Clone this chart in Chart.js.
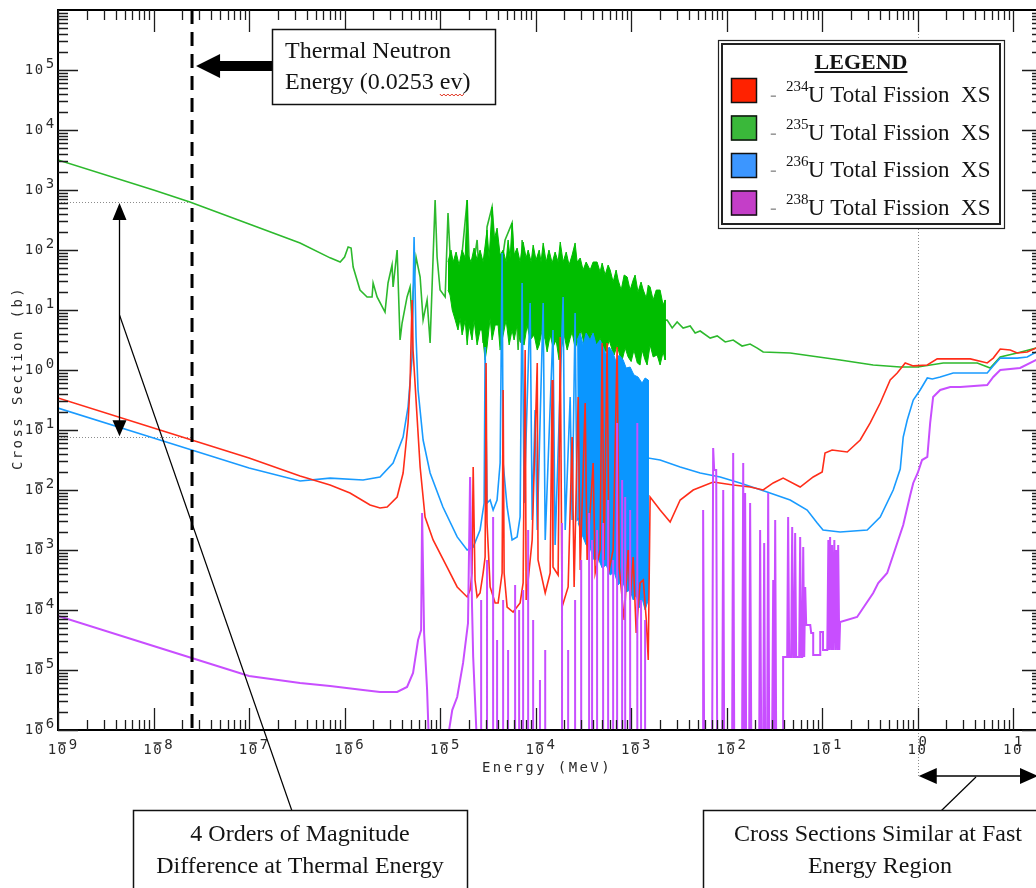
<!DOCTYPE html>
<html><head><meta charset="utf-8">
<script src="https://cdn.jsdelivr.net/npm/chart.js@4.4.0/dist/chart.umd.min.js"></script>
<style>html,body{margin:0;padding:0;overflow:hidden;background:#fff;width:1036px;height:888px}canvas{display:block}</style>
</head><body>
<canvas id="c" width="1044" height="888" style="width:1044px;height:888px"></canvas>
<script>
// ---- axis ranges (MeV, barns) ----
const xMin = 1e-9, xMax = 20, yMin = 1e-6, yMax = 1e6;
const xDecades = [-9,-8,-7,-6,-5,-4,-3,-2,-1,0,1];
const yDecades = [-6,-5,-4,-3,-2,-1,0,1,2,3,4,5];
// ---- annotation values ----
const thermalE = 2.53e-8;      // 0.0253 eV in MeV
const u235Thermal = 6.3e2;     // U235 fission XS at thermal
const u234Thermal = 7.6e-2;    // U234 fission XS at thermal
const arrowE = 4.3e-9;
const fastE = 1;
const u238Floor = 5e-7;        // below the plotted range between resonances

// ---- U-235 total fission XS ----
const u235Line = [[1e-9,3.16e3],[1e-8,1.0e3],[2.4e-8,6.3e2],[1e-7,2.71e2],[3.42e-7,1.31e2],[7.05e-7,7.4e1],[9.0e-7,6.31e1],[1.0e-6,7.64e1],[1.09e-6,1.12e2],[1.17e-6,1.08e2],[1.23e-6,5.2e1],[1.45e-6,2.15e1],[1.72e-6,1.65e1],[1.94e-6,1.65e1],[1.99e-6,2.82e1],[2.19e-6,1.65e1],[2.65e-6,9.26],[2.85e-6,2.82e1],[3.14e-6,5.62e1],[3.22e-6,2.42e1],[3.55e-6,1.0e2],[3.81e-6,3.16],[4.0e-6,6.07],[4.51e-6,1.65e1],[4.85e-6,2.42e1],[5.09e-6,6.07],[5.21e-6,1.92e1],[5.6e-6,7.64e1],[6.18e-6,3.55e1],[6.64e-6,6.81],[7.31e-6,1.47e1],[7.86e-6,2.82],[8.45e-6,7.64e1],[8.87e-6,6.81e2],[9.3e-6,7.64e1],[1.0e-5,2.15e1],[1.13e-5,1.65e1],[1.21e-5,4.13e2],[1.30e-5,4.13e1],[1.54e-5,7.64],[1.70e-5,8.91e1],[1.92e-5,6.81e2],[2.06e-5,2.15e1],[2.44e-5,1.47e2],[2.82e-5,2.82],[3.10e-5,2.42e2],[3.50e-5,5.21e2],[4.05e-5,2.15e1],[4.79e-5,1.47e2],[5.67e-5,2.82e2],[6.56e-5,2.15],[7.22e-5,1.47e2],[8.15e-5,6.07],[2.38e-3,6.81],[2.69e-3,5.01],[3.03e-3,6.31],[3.50e-3,5.01],[4.15e-3,5.41],[4.68e-3,4.13],[5.28e-3,4.47],[6.72e-3,3.41],[7.96e-3,3.69],[9.65e-3,2.93],[1.17e-2,3.16],[1.45e-2,2.51],[1.76e-2,2.71],[2.09e-2,2.32],[2.41e-2,2.0],[4.62e-2,1.92],[1.54e-1,1.47],[3.42e-1,1.21],[6.56e-1,1.12],[1.0,1.12],[1.85,1.31],[4.2,1.31],[5.74,1.08],[7.3,1.65],[11.0,1.92],[17.4,2.32],[20,2.42]];
// dense resonance band: upper edge (left to right) then lower edge (right to left)
const u235BandTop = [[1.21e-5,6.31e1],[1.30e-5,1.0e2],[1.37e-5,6.31e1],[1.47e-5,9.26e1],[1.58e-5,5.62e1],[1.70e-5,1.0e2],[1.83e-5,7.36e1],[1.92e-5,6.81e2],[1.96e-5,8.25e1],[2.11e-5,6.31e1],[2.27e-5,1.08e2],[2.44e-5,6.81e1],[2.62e-5,1.0e2],[2.82e-5,6.31e1],[3.10e-5,2.15e2],[3.26e-5,7.36e1],[3.50e-5,5.21e2],[3.68e-5,1.47e2],[3.95e-5,2.32e2],[4.25e-5,8.25e1],[4.57e-5,1.0e2],[4.91e-5,6.31e1],[5.15e-5,1.47e2],[5.41e-5,7.36e1],[5.67e-5,2.82e2],[5.95e-5,8.25e1],[6.40e-5,1.08e2],[6.88e-5,6.31e1],[7.40e-5,1.36e2],[7.96e-5,7.36e1],[8.35e-5,1.0e2],[8.98e-5,6.31e1],[9.42e-5,1.21e2],[1.01e-4,6.81e1],[1.09e-4,1.0e2],[1.14e-4,6.31e1],[1.20e-4,1.31e2],[1.29e-4,6.31e1],[1.38e-4,1.0e2],[1.49e-4,6.07e1],[1.60e-4,9.26e1],[1.72e-4,6.31e1],[1.81e-4,1.36e2],[1.94e-4,6.31e1],[2.09e-4,9.26e1],[2.24e-4,5.62e1],[2.41e-4,8.25e1],[2.59e-4,1.31e2],[2.72e-4,6.31e1],[2.93e-4,7.36e1],[3.14e-4,4.64e1],[3.38e-4,6.31e1],[3.72e-4,4.64e1],[4.0e-4,6.31e1],[4.4e-4,6.31e1],[4.73e-4,4.30e1],[4.97e-4,6.07e1],[5.34e-4,3.83e1],[5.74e-4,5.62e1],[6.03e-4,4.64e1],[6.48e-4,2.93e1],[6.96e-4,4.64e1],[7.31e-4,3.16e1],[7.86e-4,2.15e1],[8.45e-4,3.83e1],[9.09e-4,3.55e1],[9.76e-4,2.15e1],[1.05e-3,3.16e1],[1.10e-3,3.83e1],[1.18e-3,2.0e1],[1.27e-3,2.93e1],[1.34e-3,2.15e1],[1.44e-3,1.58e1],[1.51e-3,2.61e1],[1.58e-3,2.42e1],[1.70e-3,1.47e1],[1.83e-3,2.15e1],[2.01e-3,2.15e1],[2.16e-3,1.21e1],[2.27e-3,1.47e1]];
const u235BandBottom = [[2.27e-3,1.47],[2.16e-3,2.0],[2.01e-3,1.21],[1.87e-3,1.78],[1.70e-3,1.65],[1.58e-3,2.61],[1.47e-3,1.21],[1.40e-3,1.47],[1.30e-3,2.15],[1.24e-3,1.21],[1.16e-3,1.31],[1.07e-3,2.15],[1.0e-3,1.38],[9.3e-4,1.65],[8.66e-4,2.32],[8.05e-4,1.47],[7.67e-4,1.65],[7.13e-4,2.61],[6.64e-4,1.78],[6.33e-4,2.15],[5.88e-4,3.16],[5.48e-4,2.0],[5.09e-4,2.42],[4.73e-4,3.41],[4.4e-4,2.15],[4.2e-4,2.61],[3.9e-4,4.30],[3.63e-4,2.61],[3.46e-4,3.55],[3.22e-4,2.61],[3.0e-4,4.64],[2.79e-4,3.16],[2.59e-4,2.32],[2.41e-4,4.30],[2.3e-4,3.41],[2.14e-4,2.15],[1.99e-4,3.83],[1.89e-4,2.61],[1.76e-4,1.47],[1.64e-4,3.16],[1.52e-4,2.42],[1.42e-4,3.83],[1.32e-4,2.0],[1.26e-4,3.16],[1.17e-4,4.64],[1.09e-4,2.61],[1.04e-4,2.15],[9.65e-5,3.83],[8.76e-5,3.16],[8.15e-5,5.62],[7.58e-5,2.61],[6.88e-5,2.93],[6.40e-5,5.62],[5.95e-5,3.16],[5.67e-5,4.64],[5.28e-5,2.61],[4.91e-5,6.81],[4.57e-5,3.83],[4.25e-5,2.15],[4.05e-5,5.62],[3.77e-5,5.62],[3.50e-5,3.16],[3.34e-5,7.36],[3.10e-5,2.42],[2.96e-5,1.47],[2.75e-5,4.64],[2.62e-5,4.64],[2.44e-5,2.61],[2.27e-5,6.81],[2.16e-5,3.16],[2.01e-5,5.62],[1.92e-5,2.61],[1.83e-5,6.81],[1.70e-5,3.83],[1.62e-5,7.36],[1.54e-5,4.64],[1.44e-5,6.81],[1.34e-5,1.0e1],[1.27e-5,1.78e1],[1.21e-5,2.15e1]];

// ---- U-234 total fission XS ----
const u234Line = [[1e-9,3.41e-1],[1e-8,1.08e-1],[1e-7,3.41e-2],[3.42e-7,1.71e-2],[7.05e-7,1.21e-2],[1.14e-6,8.91e-3],[1.85e-6,5.62e-3],[2.35e-6,5.01e-3],[2.79e-6,5.21e-3],[3.55e-6,7.64e-3],[4.1e-6,1.92e-2],[4.62e-6,1.31e-1],[4.85e-6,6.07e-1],[5.09e-6,1.47e1],[5.21e-6,2.15],[5.74e-6,1.65e-1],[6.18e-6,2.42e-2],[6.96e-6,3.55e-3],[8.45e-6,1.47e-3],[1.18e-5,5.21e-4],[1.51e-5,2.42e-4],[1.92e-5,1.65e-4],[2.06e-5,2.15e-4],[2.16e-5,4.13e-4],[2.22e-5,2.42e-2],[2.32e-5,3.16e-4],[2.44e-5,1.65e-4],[2.62e-5,1.92e-4],[2.82e-5,4.13e-4],[2.96e-5,7.64e-4],[3.03e-5,1.31],[3.10e-5,2.82e-3],[3.34e-5,2.42e-4],[3.77e-5,1.31e-4],[4.05e-5,1.31e-4],[4.46e-5,4.13e-4],[4.57e-5,4.64e-1],[4.68e-5,4.13e-4],[5.03e-5,1.12e-4],[5.81e-5,9.26e-5],[6.88e-5,1.31e-4],[7.40e-5,2.82e-4],[7.77e-5,2.15],[7.96e-5,1.47e-4],[9.2e-5,1.47e-3],[1.04e-4,1.31],[1.06e-4,6.81e-4],[1.26e-4,1.92e-4],[1.42e-4,4.13e-4],[1.49e-4,6.81e-1],[1.52e-4,5.21e-4],[1.72e-4,3.83e-4],[1.81e-4,3.55],[1.89e-4,1.12e-4],[2.19e-4,2.42e-4],[2.41e-4,7.64e-2],[2.53e-4,2.42e-4],[2.79e-4,3.55e-1],[2.93e-4,4.64e-4],[3.30e-4,2.82e-1],[3.46e-4,6.81e-4],[4.0e-4,2.82e-2],[4.2e-4,4.13e-4],[4.73e-4,1.0e-3],[4.97e-4,2.82],[5.21e-4,6.81e-4],[5.6e-4,2.82],[5.88e-4,4.64e-4],[6.48e-4,1.0e-3],[7.13e-4,2.42],[7.5e-4,5.21e-4],[8.45e-4,6.81e-5],[9.3e-4,1.0e-3],[9.76e-4,1.47e-4],[1.05e-3,7.64e-4],[1.13e-3,4.13e-5],[1.24e-3,2.82e-4],[1.34e-3,3.16e-4],[1.44e-3,6.81e-5],[1.51e-3,1.47e-5],[1.58e-3,7.64e-3],[2.01e-3,4.64e-3],[2.56e-3,2.93e-3],[3.26e-3,6.81e-3],[4.46e-3,1.0e-2],[7.22e-3,1.36e-2],[1.17e-2,1.21e-2],[1.76e-2,1.12e-2],[2.41e-2,1.0e-2],[3.07e-2,1.31e-2],[3.9e-2,1.58e-2],[5.88e-2,1.12e-2],[8.05e-2,1.65e-2],[1e-1,2.0e-2],[1.07e-1,4.13e-2],[1.27e-1,4.64e-2],[1.83e-1,4.30e-2],[2.50e-1,6.81e-2],[3.18e-1,1.31e-1],[4.05e-1,2.82e-1],[5.15e-1,6.81e-1],[6.10e-1,8.91e-1],[7.40e-1,1.31],[8.98e-1,1.17],[1.26,1.21],[1.6,1.53],[3.55,1.53],[5.34,1.31],[6.18,1.58],[7.31,2.24],[9.3,2.15],[11.0,1.92],[14.0,2.0],[17.4,2.32],[20,2.42]];

// ---- U-236 total fission XS ----
const u236Line = [[1e-9,2.32e-1],[1e-8,7.34e-2],[1e-7,2.32e-2],[3.42e-7,1.41e-2],[7.05e-7,1.58e-2],[1.56e-6,1.47e-2],[2.35e-6,1.65e-2],[3.22e-6,2.82e-2],[4.1e-6,7.64e-2],[4.62e-6,2.42e-1],[5.09e-6,1.65],[5.34e-6,1.65e2],[5.6e-6,3.55],[5.88e-6,4.64e-1],[6.64e-6,6.81e-2],[7.86e-6,1.92e-2],[1.07e-5,5.21e-3],[1.51e-5,1.65e-3],[1.92e-5,1.0e-3],[2.22e-5,1.12e-3],[2.62e-5,2.15e-3],[2.89e-5,6.07e-3],[2.96e-5,2.42],[3.10e-5,6.07e-3],[3.34e-5,6.81e-3],[3.59e-5,4.64e-3],[3.95e-5,6.81e-3],[4.25e-5,2.82e-2],[4.46e-5,8.91e1],[4.57e-5,2.82e-2],[5.03e-5,5.21e-3],[5.67e-5,1.47e-3],[6.40e-5,1.65e-3],[6.88e-5,3.55e-3],[7.22e-5,2.82e1],[7.58e-5,6.07e-3],[8.76e-5,1.31e1],[9.2e-5,3.16e-3],[9.88e-5,2.15e-1],[1.04e-4,2.15e-3],[1.20e-4,1.31e1],[1.26e-4,1.47e-3],[1.52e-4,4.64],[1.6e-4,1.21e-3],[1.94e-4,1.65e1],[2.04e-4,2.15e-3],[2.3e-4,3.55e-1],[2.41e-4,3.16e-3],[2.59e-4,8.91],[2.72e-4,3.16e-3],[1.51e-3,3.41e-2],[2.01e-3,3.16e-2],[3.26e-3,2.42e-2],[5.28e-3,1.92e-2],[8.55e-3,1.65e-2],[1.38e-2,1.31e-2],[2.65e-2,9.26e-3],[4.62e-2,6.81e-3],[6.96e-2,4.64e-3],[8.87e-2,2.82e-3],[1.02e-1,2.15e-3],[1.54e-1,2.0e-3],[2.96e-1,2.15e-3],[4.05e-1,3.55e-3],[5.54e-1,1.0e-2],[6.56e-1,2.24e-2],[7.05e-1,7.64e-2],[7.77e-1,1.47e-1],[8.98e-1,3.16e-1],[1.06,4.64e-1],[1.26,7.36e-1],[1.42,7.08e-1],[1.72,7.64e-1],[2.35,8.91e-1],[5.34,8.91e-1],[6.03,1.12],[7.31,1.58],[11.0,1.58],[14.0,1.65],[17.4,2.0],[20,2.07]];
const u236BandTop = [[2.72e-4,3.16],[2.93e-4,4.13],[3.14e-4,2.61],[3.38e-4,4.13],[3.72e-4,3.16],[4.0e-4,4.13],[4.3e-4,2.61],[4.73e-4,3.16],[5.09e-4,2.42],[5.48e-4,1.78],[5.88e-4,2.42],[6.48e-4,1.92],[6.96e-4,1.36],[7.49e-4,1.78],[8.25e-4,1.47],[8.87e-4,1.08],[9.76e-4,1.12],[1.07e-3,8.25e-1],[1.18e-3,7.64e-1],[1.30e-3,6.07e-1],[1.40e-3,7.36e-1],[1.51e-3,6.81e-1]];
const u236BandBottom = [[1.51e-3,1.47e-4],[1.40e-3,1.0e-4],[1.30e-3,1.58e-4],[1.21e-3,1.08e-4],[1.13e-3,1.78e-4],[1.05e-3,1.47e-4],[9.76e-4,2.15e-4],[8.87e-4,2.0e-4],[8.05e-4,3.16e-4],[7.31e-4,2.61e-4],[6.64e-4,4.30e-4],[6.03e-4,3.83e-4],[5.48e-4,5.62e-4],[4.97e-4,5.01e-4],[4.51e-4,7.36e-4],[4.1e-4,6.81e-4],[3.72e-4,1.08e-3],[3.38e-4,1.21e-3],[3.07e-4,1.78e-3],[2.79e-4,2.82e-3]];

// ---- U-238 total fission XS ----
const u238Low = [[1e-9,7.94e-5],[1e-8,2.51e-5],[1e-7,7.94e-6],[3.42e-7,6.07e-6],[7.05e-7,5.41e-6],[1.56e-6,4.64e-6],[2.35e-6,4.30e-6],[3.55e-6,4.30e-6],[4.51e-6,5.21e-6],[5.21e-6,8.91e-6],[5.88e-6,3.16e-5],[6.33e-6,4.64e-5],[6.48e-6,4.13e-3],[6.8e-6,4.13e-5],[7.31e-6,4.64e-6],[7.67e-6,5e-7],[1.16e-5,5e-7],[1.34e-5,2.15e-6],[1.51e-5,3.55e-6],[1.74e-5,1.31e-5],[1.96e-5,6.07e-5],[2.06e-5,1.65e-2],[2.16e-5,1.12e-4],[2.22e-5,1.65e-5],[2.44e-5,5e-7]];
const u238SpikeE = [2.69e-5,3.10e-5,3.59e-5,3.95e-5,4.57e-5,5.15e-5,6.10e-5,6.72e-5,7.40e-5,8.35e-5,9.42e-5,1.11e-4,1.26e-4,1.89e-4,2.19e-4,2.59e-4,3.0e-4,3.63e-4,3.9e-4,4.4e-4,5.09e-4,5.74e-4,6.48e-4,7.13e-4,8.05e-4,8.66e-4,9.76e-4,1.16e-3,1.27e-3,1.40e-3];
const u238SpikePeak = [1.47e-4,6.81e-4,3.55e-3,3.16e-5,1.47e-4,2.15e-5,2.61e-4,1.0e-4,2.15e-4,2.15e-3,6.81e-5,6.81e-6,2.15e-5,2.82e-3,2.15e-5,1.47e-4,6.81e-4,4.13e-3,1.47e-3,2.15e-3,2.82e-3,6.81e-3,6.81e-4,1.31e-1,1.47e-2,7.64e-3,4.64e-3,1.31e-1,1.47e-4,6.81e-5];
const u238High = [[1.58e-3,5e-7],[5.67e-3,5e-7],[5.67e-3,4.64e-3],[5.81e-3,5e-7],[7.05e-3,5e-7],[7.22e-3,5.01e-2],[7.40e-3,2.15e-2],[7.77e-3,2.15e-2],[7.96e-3,5e-7],[8.98e-3,5e-7],[9.20e-3,1.0e-2],[9.42e-3,5e-7],[1.14e-2,5e-7],[1.17e-2,4.13e-2],[1.20e-2,5e-7],[1.45e-2,5e-7],[1.49e-2,2.82e-2],[1.52e-2,5e-7],[1.56e-2,8.91e-3],[1.60e-2,5e-7],[1.72e-2,5e-7],[1.76e-2,6.07e-3],[1.81e-2,5e-7],[2.19e-2,5e-7],[2.24e-2,2.15e-3],[2.30e-2,5e-7],[2.41e-2,5e-7],[2.47e-2,1.31e-3],[2.53e-2,5e-7],[2.65e-2,5e-7],[2.72e-2,8.91e-3],[2.79e-2,5e-7],[2.99e-2,5e-7],[3.07e-2,3.16e-4],[3.14e-2,5e-7],[3.22e-2,3.16e-3],[3.30e-2,5e-7],[3.9e-2,5e-7],[3.9e-2,1.65e-5],[4.30e-2,1.65e-5],[4.40e-2,3.55e-3],[4.51e-2,1.65e-5],[4.73e-2,1.65e-5],[4.85e-2,2.42e-3],[4.97e-2,1.65e-5],[5.09e-2,1.65e-5],[5.21e-2,1.92e-3],[5.34e-2,1.65e-5],[5.74e-2,1.65e-5],[5.88e-2,1.65e-3],[6.03e-2,1.65e-5],[6.18e-2,1.65e-5],[6.33e-2,1.12e-3],[6.48e-2,1.65e-5],[6.64e-2,2.42e-4],[6.80e-2,5.62e-5],[7.5e-2,5.62e-5],[7.67e-2,4.13e-5],[8.05e-2,4.13e-5],[8.05e-2,1.78e-5],[9.54e-2,1.78e-5],[9.54e-2,4.30e-5],[1.02e-1,4.30e-5],[1.02e-1,2.15e-5],[1.13e-1,2.15e-5],[1.16e-1,1.47e-3],[1.18e-1,2.15e-5],[1.21e-1,1.65e-3],[1.24e-1,2.15e-5],[1.27e-1,1.21e-3],[1.30e-1,2.15e-5],[1.34e-1,1.47e-3],[1.37e-1,2.15e-5],[1.40e-1,1.0e-3],[1.44e-1,2.15e-5],[1.47e-1,1.21e-3],[1.51e-1,2.15e-5],[1.54e-1,6.31e-5],[2.32e-1,7.64e-5],[3.42e-1,1.92e-4],[3.86e-1,2.82e-4],[4.79e-1,4.13e-4],[5.54e-1,8.25e-4],[7.05e-1,2.61e-3],[8.35e-1,8.25e-3],[8.98e-1,1.31e-2],[1.0,1.92e-2],[1.11,3.16e-2],[1.26,3.55e-2],[1.35,1.31e-1],[1.45,3.55e-1],[1.72,4.64e-1],[2.19,5.21e-1],[2.79,5.21e-1],[5.34,5.62e-1],[6.18,7.64e-1],[7.31,1.0],[11.8,1.08],[17.4,1.47],[20,1.58]];

// ---- legend ----
const legendIsotopes = ['234','235','236','238'];
const legendColors = ['rgb(255,34,0)','rgb(58,184,58)','rgb(60,150,255)','rgb(196,62,200)'];
const legendText = 'U Total Fission  XS';

// ---- build datasets ----
const u238Spikes = [];
u238SpikeE.forEach((e,i)=>{ u238Spikes.push([e,u238Floor],[e,u238SpikePeak[i]],[e,u238Floor]); });
const u238All = u238Low.concat(u238Spikes, u238High);
const u235Band = u235BandTop.concat(u235BandBottom);
const u236Band = u236BandTop.concat(u236BandBottom);
const pts = a => a.map(p => ({x:p[0], y:p[1]}));
const base = {showLine:true, pointRadius:0, pointHoverRadius:0, tension:0, fill:false};

const SERIF = '"Liberation Serif","Times New Roman",serif';
const MONO = '"DejaVu Sans Mono",monospace';

function line(ctx,x1,y1,x2,y2){ctx.beginPath();ctx.moveTo(x1,y1);ctx.lineTo(x2,y2);ctx.stroke();}
function tri(ctx,p){ctx.beginPath();ctx.moveTo(p[0],p[1]);ctx.lineTo(p[2],p[3]);ctx.lineTo(p[4],p[5]);ctx.closePath();ctx.fill();}

const deco = {
  id:'deco',
  beforeDatasetsDraw(chart){
    const {ctx, chartArea:a, scales:{x,y}} = chart;
    ctx.save();
    ctx.strokeStyle='#8c8c8c'; ctx.lineWidth=1; ctx.setLineDash([1,2]);
    const xf = Math.round(x.getPixelForValue(fastE))+0.5;
    line(ctx,xf,a.top,xf,a.bottom+46);
    const xt = x.getPixelForValue(thermalE);
    for (const v of [u235Thermal,u234Thermal]) {
      const yy = Math.round(y.getPixelForValue(v))+0.5;
      line(ctx,a.left,yy,xt,yy);
    }
    ctx.restore();
  },
  afterDatasetsDraw(chart){
    const {ctx, chartArea:a, scales:{x,y}} = chart;
    ctx.save();
    const xt = x.getPixelForValue(thermalE);
    ctx.strokeStyle='#000'; ctx.lineWidth=3; ctx.setLineDash([14,8]);
    line(ctx,xt,a.top,xt,a.bottom);
    ctx.setLineDash([]);
    ctx.lineWidth=2; ctx.strokeStyle='#000';
    ctx.strokeRect(a.left,a.top,a.right-a.left,a.bottom-a.top);
    ctx.lineWidth=1.3; ctx.strokeStyle='#1c1c1c';
    ctx.beginPath();
    for (let e=-9;e<=1;e++) for (let m=1;m<=9;m++) {
      const v=m*Math.pow(10,e); if (v<x.min*0.999||v>x.max) continue;
      const p=Math.round(x.getPixelForValue(v))+0.5, L=(m===1?22:10);
      ctx.moveTo(p,a.bottom); ctx.lineTo(p,a.bottom-L);
      ctx.moveTo(p,a.top); ctx.lineTo(p,a.top+L);
    }
    for (let e=-6;e<=5;e++) for (let m=1;m<=9;m++) {
      const v=m*Math.pow(10,e); if (v<y.min*0.999||v>y.max*1.001) continue;
      const p=Math.round(y.getPixelForValue(v))+0.5, L=(m===1?20:10);
      ctx.moveTo(a.left,p); ctx.lineTo(a.left+L,p);
      ctx.moveTo(a.right,p); ctx.lineTo(a.right-L,p);
    }
    ctx.stroke();
    ctx.fillStyle='#2a2a2a'; ctx.font='14px '+MONO; ctx.textAlign='center'; ctx.textBaseline='middle';
    ctx.lineWidth=1.4; ctx.strokeStyle='#2a2a2a';
    for (const e of xDecades) {
      const p=x.getPixelForValue(Math.pow(10,e)), cy=a.bottom+20;
      ctx.fillText('1',p-6,cy); ctx.fillText('0',p+4,cy);
      if (e<0) { line(ctx,p,cy-7,p+8,cy-7); ctx.fillText(String(-e),p+15,cy-5); }
      else { ctx.fillText(String(e),p+5,cy-8); }
    }
    for (const e of yDecades) {
      const p=y.getPixelForValue(Math.pow(10,e));
      ctx.fillText('1',29,p); ctx.fillText('0',39,p);
      if (e<0) { line(ctx,35,p-7,43,p-7); ctx.fillText(String(-e),50,p-6); }
      else ctx.fillText(String(e),50,p-6);
    }
    ctx.font='14px '+MONO; ctx.fillStyle='#2a2a2a';
    try{ctx.letterSpacing='2.4px';}catch(err){}
    ctx.fillText('Energy (MeV)',547,768);
    ctx.save(); ctx.translate(18,378); ctx.rotate(-Math.PI/2); ctx.fillText('Cross Section (b)',0,0); ctx.restore();
    try{ctx.letterSpacing='0px';}catch(err){}

    const xa=Math.round(x.getPixelForValue(arrowE))+0.5;
    const y1=y.getPixelForValue(u235Thermal), y2=y.getPixelForValue(u234Thermal);
    ctx.strokeStyle='#000'; ctx.fillStyle='#000'; ctx.lineWidth=1.3;
    line(ctx,xa,y1+10,xa,y2-10);
    tri(ctx,[xa,y1+1,xa-7,y1+18,xa+7,y1+18]);
    tri(ctx,[xa,y2-1,xa-7,y2-17,xa+7,y2-17]);
    ctx.lineWidth=1.2; line(ctx,xa,315,292,811);

    tri(ctx,[xt+4,66,xt+28,54,xt+28,78]);
    ctx.fillRect(xt+27,61,272-(xt+27),10);
    ctx.fillStyle='#fff'; ctx.fillRect(272,29,224,76);
    ctx.strokeStyle='#111'; ctx.lineWidth=1.5; ctx.strokeRect(272.5,29.5,223,75);
    ctx.fillStyle='#141414'; ctx.font='24px '+SERIF; ctx.textAlign='left'; ctx.textBaseline='alphabetic';
    ctx.fillText('Thermal Neutron',285,58);
    ctx.fillText('Energy (0.0253 ev)',285,89);
    const pre=ctx.measureText('Energy (0.0253 ').width, evw=ctx.measureText('ev').width;
    ctx.strokeStyle='#e0301e'; ctx.lineWidth=1; ctx.beginPath();
    for (let i=0;i<=Math.ceil(evw/2);i++){ const xx=285+pre+i*2, yy=94+(i%2?2:0); if(i===0)ctx.moveTo(xx,yy); else ctx.lineTo(xx,yy);} ctx.stroke();

    const xf=x.getPixelForValue(fastE);
    ctx.strokeStyle='#000'; ctx.fillStyle='#000'; ctx.lineWidth=1.5;
    line(ctx,xf+14,776,1024,776);
    tri(ctx,[xf+1,776,xf+19,768,xf+19,784]);
    tri(ctx,[1038,776,1020,768,1020,784]);
    ctx.lineWidth=1.2; line(ctx,976,777,941,811);

    ctx.fillStyle='#fff'; ctx.fillRect(133,810,334,90); ctx.fillRect(703,810,400,90);
    ctx.strokeStyle='#111'; ctx.lineWidth=1.5;
    ctx.strokeRect(133.5,810.5,334,90); ctx.strokeRect(703.5,810.5,400,90);
    ctx.fillStyle='#141414'; ctx.font='24px '+SERIF; ctx.textAlign='center';
    ctx.fillText('4 Orders of Magnitude',300,841);
    ctx.fillText('Difference at Thermal Energy',300,873);
    ctx.fillText('Cross Sections Similar at Fast',878,841);
    ctx.fillText('Energy Region',880,873);

    ctx.fillStyle='#fff'; ctx.fillRect(718,40,287,189);
    ctx.strokeStyle='#222'; ctx.lineWidth=1.2; ctx.strokeRect(718.5,40.5,286,188);
    ctx.lineWidth=2; ctx.strokeRect(722,44,278,180);
    ctx.fillStyle='#141414'; ctx.font='bold 22px '+SERIF; ctx.textAlign='center';
    ctx.fillText('LEGEND',861,69);
    const lw=ctx.measureText('LEGEND').width; ctx.fillRect(861-lw/2,71,lw,2);
    ctx.textAlign='left';
    legendIsotopes.forEach((iso,i)=>{
      const top=78+i*37.5;
      ctx.fillStyle=legendColors[i]; ctx.fillRect(731,top,26,25);
      ctx.strokeStyle='#111'; ctx.lineWidth=1.5; ctx.strokeRect(731.5,top+0.5,25,24);
      ctx.fillStyle='#9a9a9a'; ctx.font='20px '+SERIF; ctx.fillText('-',770,top+23);
      ctx.fillStyle='#141414'; ctx.font='15px '+SERIF; ctx.fillText(iso,786,top+13);
      ctx.font='23px '+SERIF; ctx.fillText(legendText,808,top+24);
    });
    ctx.restore();
  }
};

new Chart(document.getElementById('c'), {
  type:'scatter',
  data:{datasets:[
    {...base, label:'238U', data:pts(u238All), borderColor:'rgb(200,78,255)', borderWidth:2, order:0},
    {...base, label:'234U', data:pts(u234Line), borderColor:'rgb(255,45,25)', borderWidth:1.6, order:1},
    {...base, label:'236U band', data:pts(u236Band), borderColor:'rgb(10,150,255)', backgroundColor:'rgb(10,150,255)', borderWidth:1, fill:'shape', order:2},
    {...base, label:'236U', data:pts(u236Line), borderColor:'rgb(25,155,255)', borderWidth:1.6, order:3},
    {...base, label:'235U band', data:pts(u235Band), borderColor:'rgb(0,190,0)', backgroundColor:'rgb(0,190,0)', borderWidth:1, fill:'shape', order:4},
    {...base, label:'235U', data:pts(u235Line), borderColor:'rgb(45,185,45)', borderWidth:1.6, order:5}
  ]},
  options:{
    responsive:false, animation:false, devicePixelRatio:1, events:[],
    layout:{padding:{left:58, top:10, right:2, bottom:158}},
    scales:{
      x:{type:'logarithmic', min:xMin, max:xMax, display:false},
      y:{type:'logarithmic', min:yMin, max:yMax, display:false}
    },
    plugins:{legend:{display:false}, tooltip:{enabled:false}}
  },
  plugins:[deco]
});
</script>
</body></html>
